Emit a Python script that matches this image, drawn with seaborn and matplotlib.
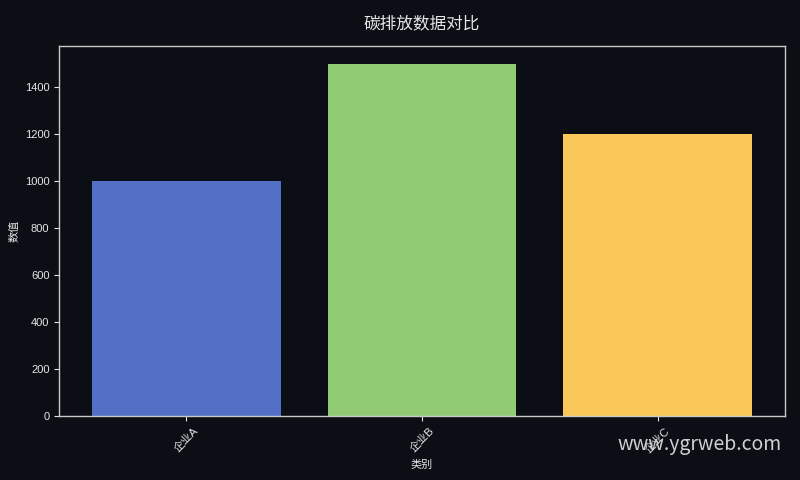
import matplotlib
matplotlib.use("Agg")
import matplotlib.pyplot as plt
import seaborn as sns
import pandas as pd

# data
categories = ["企业A", "企业B", "企业C"]
values = [1000, 1500, 1200]
colors = ["#5470c6", "#91cc75", "#fac858"]

BG = "#0b0e14"
FG = "#e6e6e6"

sns.set_theme(style="dark")
plt.rcParams["font.family"] = ["Liberation Sans", "Noto Sans CJK SC", "DejaVu Sans"]

df = pd.DataFrame({"类别": categories, "数值": values})

fig = plt.figure(figsize=(8, 4.8), dpi=100, facecolor=BG)
ax = fig.add_axes([0.074, 0.133, 0.907, 0.771])
ax.set_facecolor(BG)

sns.barplot(data=df, x="类别", y="数值", hue="类别", palette=colors,
            legend=False, width=0.8, saturation=1, linewidth=0,
            edgecolor="none", ax=ax)

ax.set_xlim(-0.54, 2.54)
ax.set_ylim(0, 1575)
ax.grid(False)

for s in ax.spines.values():
    s.set_color("#c8c8c8")
    s.set_linewidth(1)

ax.tick_params(colors=FG, labelsize=8, length=3.5, width=0.8, bottom=True, left=True)
ax.tick_params(axis="x", labelrotation=45)
ax.set_xlabel("类别", color=FG, fontsize=8)
ax.set_ylabel("数值", color=FG, fontsize=8)
ax.set_title("碳排放数据对比", color=FG, fontsize=12, pad=13,
             family=["Noto Sans CJK SC", "DejaVu Sans"])

fig.text(0.977, 0.052, "www.ygrweb.com", ha="right", va="bottom",
         color="#d0d0d0", fontsize=14, family=["Noto Sans CJK SC", "DejaVu Sans"])

fig.savefig("out.png", dpi=100, facecolor=BG)
